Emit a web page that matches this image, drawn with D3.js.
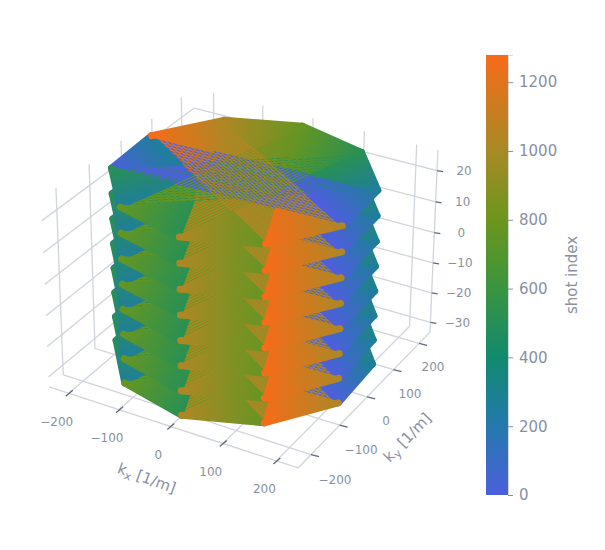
<!DOCTYPE html>
<html>
<head>
<meta charset="utf-8">
<script src="https://cdn.jsdelivr.net/npm/d3@7"></script>
<style>
	html, body { margin: 0; padding: 0; background: #fff; }
	text { font-family: "DejaVu Sans", sans-serif; fill: #87919f; }
</style>
</head>
<body>
<svg id="chart" width="605" height="550"></svg>
<script>
// axis ticks
var kxTicks = [-200, -100, 0, 100, 200];
var kyTicks = [-200, -100, 0, 100, 200];
var kzTicks = [-30, -20, -10, 0, 10, 20];
var shotTicks = [0, 200, 400, 600, 800, 1000, 1200];

// colour scale of the shot index
var shotStops = [0, 200, 400, 600, 800, 1000, 1279];
var shotColors = ['#4d5fdc', '#2479ad', '#118a6e', '#3a9440', '#6c961d', '#a78a25', '#f76b1a'];

// kz of the stacked planes, bottom to top
var levelKz = [-31, -23, -15, -7, 1, 9, 17, 25];

// outline of one plane
var vertexKx = [139, 216, 210, 124, -10, -139, -216, -210, -124, 10];
var vertexKy = [-175, -60, 78, 187, 224, 175, 60, -78, -187, -224];

// blades: corners [low, high, high, low] in vertex numbers, with their shot range
var bladeCorners = [[2, 3, 7, 8], [3, 4, 8, 9], [4, 5, 9, 0], [1, 2, 6, 7], [5, 6, 0, 1]];
var bladeShotFrom = [256, 512, 768, 0, 1024];
var bladeShotTo = [512, 768, 1024, 256, 1280];

// which blade's lines end up on top where blades overlap, and how much of the gap they fill
var stripeOrder = [2, 0, 3, 1, 4];
var stripeWidth = [1.0, 0.9, 1.0, 1.5, 0.8];

// blade ends are painted in shot order
var endOrder = [3, 0, 1, 2, 4];

var svg = d3.select('#chart');
var defs = svg.append('defs');

var xScale = d3.scaleLinear().domain([-240, 240]).range([0, 1]),
	yScale = d3.scaleLinear().domain([-244, 244]).range([0, 1]),
	zScale = d3.scaleLinear().domain([-33.3, 26.6]).range([0, 1]);

var shotColor = d3.scaleLinear().domain(shotStops).range(shotColors).clamp(true);

/**
 * Solve the 3x4 camera matrix from the box corners seen in the picture.
 * Each corner: [x, y, z, screenX, screenY] in unit box coordinates.
 */
function fitCamera(corners) {
	var rows = [], rhs = [];
	corners.forEach(function (c) {
		rows.push([c[0], c[1], c[2], 1, 0, 0, 0, 0, -c[3] * c[0], -c[3] * c[1], -c[3] * c[2]]);
		rhs.push(c[3]);
		rows.push([0, 0, 0, 0, c[0], c[1], c[2], 1, -c[4] * c[0], -c[4] * c[1], -c[4] * c[2]]);
		rhs.push(c[4]);
	});
	// normal equations, then plain elimination
	var n = 11, m = d3.range(n).map(function (i) {
		var row = d3.range(n).map(function (j) {
			return d3.sum(rows, function (r) { return r[i] * r[j]; });
		});
		row.push(d3.sum(rows, function (r, k) { return r[i] * rhs[k]; }));
		return row;
	});
	for (var i = 0; i < n; i++) {
		var best = i;
		for (var r = i + 1; r < n; r++) if (Math.abs(m[r][i]) > Math.abs(m[best][i])) best = r;
		var tmp = m[i]; m[i] = m[best]; m[best] = tmp;
		for (r = 0; r < n; r++) {
			if (r === i) continue;
			var f = m[r][i] / m[i][i];
			for (var c = i; c <= n; c++) m[r][c] -= f * m[i][c];
		}
	}
	return m.map(function (row, k) { return row[n] / row[k]; }).concat([1]);
}

var camera = fitCamera([
	[0, 0, 0, 49, 387],
	[1, 0, 0, 298, 468],
	[1, 1, 0, 430, 332],
	[1, 1, 1, 438, 150],
	[0, 1, 1, 194, 88],
	[0, 0, 1, 41, 199]
]);

// data values to screen
function project(kx, ky, kz) {
	var x = xScale(kx), y = yScale(ky), z = zScale(kz),
		w = camera[8] * x + camera[9] * y + camera[10] * z + camera[11];
	return [
		(camera[0] * x + camera[1] * y + camera[2] * z + camera[3]) / w,
		(camera[4] * x + camera[5] * y + camera[6] * z + camera[7]) / w
	];
}

var xMin = xScale.domain()[0], xMax = xScale.domain()[1],
	yMin = yScale.domain()[0], yMax = yScale.domain()[1],
	zMin = zScale.domain()[0], zMax = zScale.domain()[1];

/**
 * Grid on the floor and the two back walls, box edges, ticks
 */
function drawBox() {
	var gridColor = '#d0d4db', tickColor = '#5f6878';
	var g = svg.append('g').attr('fill', 'none');

	function line(a, b, color, width) {
		g.append('line')
			.attr('x1', a[0]).attr('y1', a[1])
			.attr('x2', b[0]).attr('y2', b[1])
			.attr('stroke', color).attr('stroke-width', width || 1.3);
	}

	kxTicks.forEach(function (t) {
		line(project(t, yMin, zMin), project(t, yMax, zMin), gridColor);
		line(project(t, yMax, zMin), project(t, yMax, zMax), gridColor);
	});
	kyTicks.forEach(function (t) {
		line(project(xMin, t, zMin), project(xMax, t, zMin), gridColor);
		line(project(xMin, t, zMin), project(xMin, t, zMax), gridColor);
	});
	kzTicks.forEach(function (t) {
		line(project(xMin, yMin, t), project(xMin, yMax, t), gridColor);
		line(project(xMin, yMax, t), project(xMax, yMax, t), gridColor);
	});

	// axis lines
	line(project(xMin, yMin, zMin), project(xMax, yMin, zMin), gridColor);
	line(project(xMax, yMin, zMin), project(xMax, yMax, zMin), gridColor);
	line(project(xMax, yMax, zMin), project(xMax, yMax, zMax), gridColor);

	// ticks and labels
	kxTicks.forEach(function (t) {
		var p = project(t, yMin, zMin);
		line([p[0] + 4, p[1] - 3], [p[0] - 3, p[1] + 3], tickColor);
		addLabel(t, p[0] - 12, p[1] + 29);
	});
	kyTicks.forEach(function (t) {
		var p = project(xMax, t, zMin);
		line(p, [p[0] + 8, p[1] + 2], tickColor);
		// labels sit closer to the axis towards the far end
		addLabel(t, p[0] + 19 - t * 0.025, p[1] + 25 - t * 0.005);
	});
	kzTicks.forEach(function (t) {
		var p = project(xMax, yMax, t);
		line(p, [p[0] + 6, p[1] + 1], tickColor);
		addLabel(t, p[0] + 27, p[1] + 1);
	});

	function addLabel(value, x, y) {
		svg.append('text')
			.attr('x', x).attr('y', y)
			.attr('text-anchor', 'middle')
			.attr('dominant-baseline', 'middle')
			.attr('font-size', 12)
			.text(d3.format('d')(value).replace('-', '\u2212'));
	}
}

// linear gradient between two screen points, coloured by shot index
var gradientCount = 0;
function shotGradient(a, b, shotA, shotB) {
	var id = 'grad-' + (gradientCount++);
	var grad = defs.append('linearGradient')
		.attr('id', id)
		.attr('gradientUnits', 'userSpaceOnUse')
		.attr('x1', a[0]).attr('y1', a[1])
		.attr('x2', b[0]).attr('y2', b[1]);
	grad.append('stop').attr('offset', 0).attr('stop-color', shotColor(shotA));
	grad.append('stop').attr('offset', 1).attr('stop-color', shotColor(shotB));
	return 'url(#' + id + ')';
}

// crossing point of the lines a-b and c-d
function crossing(a, b, c, d) {
	var d1 = [b[0] - a[0], b[1] - a[1]], d2 = [d[0] - c[0], d[1] - c[1]],
		t = ((c[0] - a[0]) * d2[1] - (c[1] - a[1]) * d2[0]) / (d1[0] * d2[1] - d1[1] * d2[0]);
	return [a[0] + t * d1[0], a[1] + t * d1[1]];
}

/**
 * Stripe masks, one per blade. The lines of the blades interleave where the blades overlap.
 */
function makeMasks() {
	var top = levelKz[levelKz.length - 1];
	bladeCorners.forEach(function (corners, i) {
		var a = project(vertexKx[corners[0]], vertexKy[corners[0]], top),
			d = project(vertexKx[corners[3]], vertexKy[corners[3]], top),
			angle = Math.atan2(d[1] - a[1], d[0] - a[0]) * 180 / Math.PI;

		var pattern = defs.append('pattern')
			.attr('id', 'stripes-' + i)
			.attr('patternUnits', 'userSpaceOnUse')
			.attr('width', 8).attr('height', 2.6)
			.attr('patternTransform', 'rotate(' + angle + ')');
		pattern.append('rect').attr('width', 8).attr('height', stripeWidth[i]).attr('fill', '#fff');

		defs.append('mask')
			.attr('id', 'mask-' + i)
			.attr('maskUnits', 'userSpaceOnUse')
			.attr('x', 0).attr('y', 0).attr('width', 605).attr('height', 550)
			.append('rect')
			.attr('width', 605).attr('height', 550)
			.attr('fill', 'url(#stripes-' + i + ')');
	});
}

function drawLevel(kz) {
	var g = svg.append('g');
	var pts = vertexKx.map(function (kx, i) { return project(kx, vertexKy[i], kz); });

	function bladePolygon(c, i, masked) {
		g.append('polygon')
			.attr('points', c.map(function (v) { return pts[v].join(','); }).join(' '))
			.attr('fill', shotGradient(pts[c[0]], pts[c[1]], bladeShotFrom[i], bladeShotTo[i]))
			.attr('mask', masked ? 'url(#mask-' + i + ')' : null);
	}

	// blades solid first so no gap stays open, then striped over each other
	bladeCorners.forEach(function (c, i) { bladePolygon(c, i, false); });
	stripeOrder.forEach(function (i) { bladePolygon(bladeCorners[i], i, true); });

	// outer part of each blade end is not overlapped by any other blade
	function bladeEnd(p, q, step, shotP, shotQ) {
		var apex = crossing(pts[p], pts[(p + 4 * step + 10) % 10], pts[q], pts[(q - 4 * step + 10) % 10]);
		var fill = shotGradient(pts[p], pts[q], shotP, shotQ);
		g.append('polygon')
			.attr('points', [pts[p], pts[q], apex].map(function (d) { return d.join(','); }).join(' '))
			.attr('fill', fill)
			.attr('stroke', fill)
			.attr('stroke-width', 3.5)
			.attr('stroke-linejoin', 'round');
		// round ends of the thick lines along the outer edge
		g.append('line')
			.attr('x1', pts[p][0]).attr('y1', pts[p][1])
			.attr('x2', pts[q][0]).attr('y2', pts[q][1])
			.attr('stroke', fill)
			.attr('stroke-width', 7)
			.attr('stroke-linecap', 'round');
	}

	endOrder.forEach(function (i) {
		var c = bladeCorners[i];
		bladeEnd(c[0], c[1], 1, bladeShotFrom[i], bladeShotTo[i]);
		bladeEnd(c[3], c[2], -1, bladeShotFrom[i], bladeShotTo[i]);
	});
}

function drawTitles() {
	function title(x, y, angle, parts) {
		var t = svg.append('text')
			.attr('transform', 'translate(' + x + ',' + y + ') rotate(' + angle + ')')
			.attr('text-anchor', 'middle')
			.attr('font-size', 15);
		t.append('tspan').text('k');
		t.append('tspan').attr('font-size', 11).attr('dy', 3).text(parts);
		t.append('tspan').attr('dy', -3).text(' [1/m]');
	}
	title(145, 483, 20, 'x');
	title(411, 441, -46, 'y');
}

function drawColorbar() {
	var barScale = d3.scaleLinear().domain([0, 1279]).range([495, 55]);

	var grad = defs.append('linearGradient')
		.attr('id', 'bar-gradient')
		.attr('x1', 0).attr('y1', 1).attr('x2', 0).attr('y2', 0);
	shotStops.forEach(function (s, i) {
		grad.append('stop').attr('offset', s / 1279).attr('stop-color', shotColors[i]);
	});

	svg.append('rect')
		.attr('x', 486).attr('y', 55)
		.attr('width', 22).attr('height', 440)
		.attr('fill', 'url(#bar-gradient)');

	var axis = svg.append('g')
		.attr('transform', 'translate(508,0)')
		.call(d3.axisRight(barScale).tickValues(shotTicks).tickFormat(d3.format('d')).tickSize(5).tickPadding(6));
	axis.select('.domain').attr('stroke', '#d5d8df').attr('stroke-width', 1);
	axis.selectAll('.tick line').attr('stroke', '#87919f');
	axis.selectAll('.tick text').attr('font-size', 15).attr('font-family', '"DejaVu Sans", sans-serif').attr('fill', '#87919f');

	svg.append('text')
		.attr('transform', 'translate(577,275) rotate(-90)')
		.attr('text-anchor', 'middle')
		.attr('font-size', 15)
		.text('shot index');
}

drawBox();
makeMasks();
levelKz.forEach(drawLevel);
drawTitles();
drawColorbar();
</script>
</body>
</html>
